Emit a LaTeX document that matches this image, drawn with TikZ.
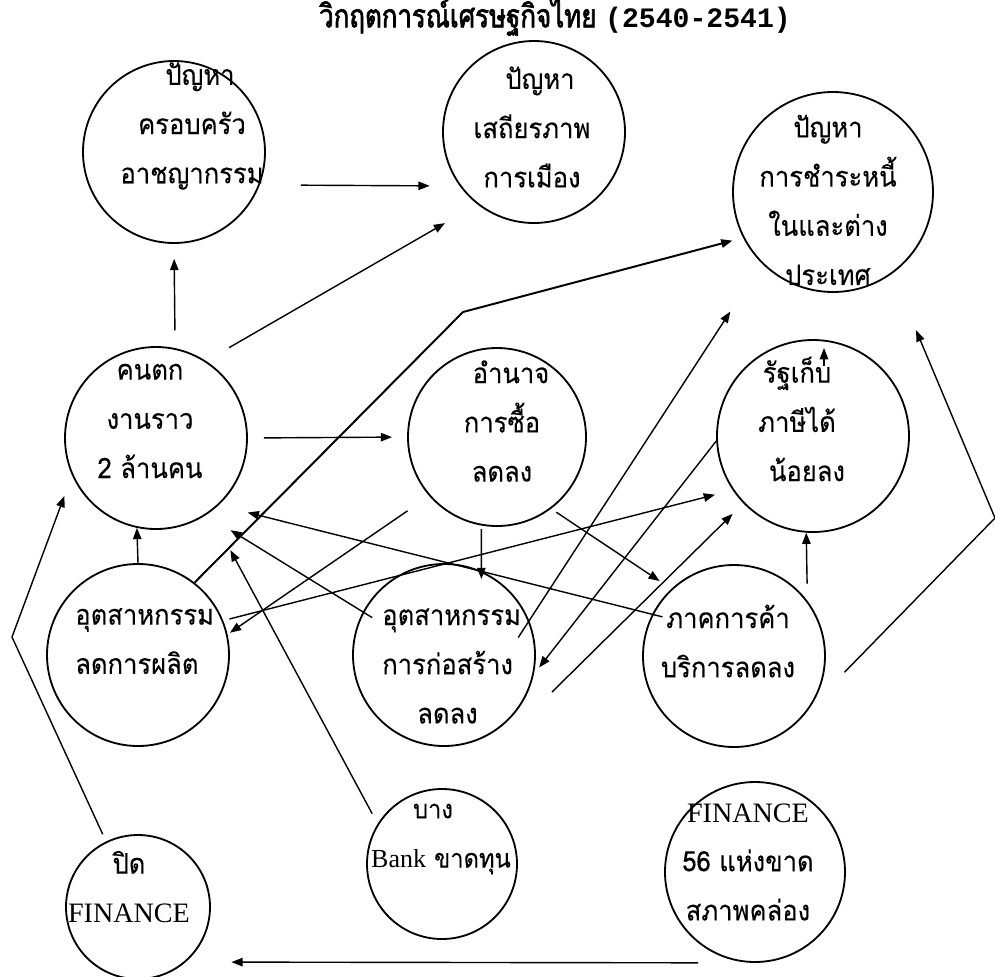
\documentclass[tikz,border=0pt]{standalone}
\usepackage{fontspec}
\setmainfont{Liberation Serif}
\newfontfamily\thai[Script=Thai,FakeStretch=0.91,FakeBold=0.15]{Loma}
\newfontfamily\thaititle[Script=Thai,FakeStretch=0.8,FakeBold=2]{Loma}
\newfontfamily\titlemono{Liberation Mono}
\usetikzlibrary{arrows.meta,calc}

\newdimen\pxu \pxu=0.025cm

\tikzset{
  bubble/.style={draw, circle, line width=1.3pt, inner sep=0pt, minimum size=182\pxu},
  txt/.style={font=\thai\fontsize{20}{35}\selectfont, align=center, inner sep=0pt},
  link/.style={line width=1pt, -{Triangle[length=8pt,width=6pt]}},
}

\begin{document}
\begin{tikzpicture}[x=0.025cm, y=-0.025cm]
\useasboundingbox (0,0) rectangle (995,976);

\node[font=\thaititle\fontsize{23}{25}\selectfont] (title) at (555,17) {วิกฤตการณ์เศรษฐกิจไทย {\titlemono\bfseries\fontsize{20}{25}\selectfont (2540-2541)}};

% the bubbles
\node[bubble] (fam) at (174,152) {};
\node[bubble] (pol) at (534,132) {};
\node[bubble, minimum size=200\pxu] (debt) at (833,192) {};
\node[bubble] (jobless) at (156,438) {};
\node[bubble, minimum size=178\pxu] (power) at (497,437) {};
\node[bubble, minimum size=192\pxu] (tax) at (813,436) {};
\node[bubble] (manu) at (138,655) {};
\node[bubble] (build) at (444,655) {};
\node[bubble] (trade) at (734,656) {};
\node[bubble, minimum size=144\pxu] (close) at (138,907) {};
\node[bubble, minimum size=150\pxu] (bank) at (442,864) {};
\node[bubble, minimum size=180\pxu] (fin56) at (755,872) {};

% their texts
\node[txt] (fam-t) at (192,126) {\hspace*{16\pxu}ปัญหา\\ครอบครัว\\อาชญากรรม};
\node[txt] (pol-t) at (532,127) {\hspace*{16\pxu}ปัญหา\\เสถียรภาพ\\การเมือง};
\node[txt] (debt-t) at (828,200) {ปัญหา\\การชำระหนี้\\ในและต่าง\hspace*{40\pxu}\\ประเทศ};
\node[txt] (jobless-t) at (150,421) {คนตก\\งานราว\\2 ล้านคน};
\node[txt] (power-t) at (502,421) {\hspace*{18\pxu}อำนาจ\\การซื้อ\\ลดลง};
\node[txt] (tax-t) at (797,419) {รัฐเก็บ\\ภาษีได้\hspace*{20\pxu}\\\hspace*{20\pxu}น้อยลง};
\node[txt, align=left, anchor=west] (manu-t) at (75,641) {อุตสาหกรรม\\ลดการผลิต};
\node[txt, align=left, anchor=west] (build-t) at (382,666) {อุตสาหกรรม\\การก่อสร้าง\\\hspace*{35\pxu}ลดลง};
\node[txt] (trade-t) at (728,641) {ภาคการค้า\\บริการลดลง};
\node[txt] (close-t) at (129,887) {ปิด\\{\rmfamily FINANCE}};
\node[txt, font=\thai\fontsize{18.5}{35}\selectfont] (bank-t) at (441,839) {\hspace*{-16\pxu}บาง\\{\rmfamily Bank} ขาดทุน};
\node[txt] (fin56-t) at (748,862) {{\rmfamily FINANCE}\\56 แห่งขาด\\สภาพคล่อง};

% arrows
\draw[link, shorten <=41\pxu, shorten >=30\pxu] (fam.-21.3) -- (pol.-144.4);
\draw[link, shorten <=17.8\pxu, shorten >=15\pxu] (jobless.78.6) -- (fam.-90);
\draw[link, shorten <=26.5\pxu, shorten >=37.4\pxu] (jobless.57.4) -- (pol.-128.5);
\coordinate (bend1) at (463,312);
\draw[link, line width=1.4pt, shorten >=11\pxu] (manu.52.6) -- (bend1) -- (debt.-153.2);
\draw[link, shorten <=16\pxu, shorten >=15\pxu] (jobless.0) -- (power.180);
\draw[link] (manu.90) -- (jobless.-102);
\coordinate (bend2) at (12,637);
\draw[link, shorten <=8\pxu, shorten >=21.9\pxu] (close.116.6) -- (bend2) -- (jobless.-156.3);
\draw[link, shorten <=-10.7\pxu, shorten >=29.9\pxu] (trade.153.5) -- (jobless.-47);
\draw[link, shorten <=-11\pxu, shorten >=28.7\pxu] (build.152) -- (jobless.-57.8);
\draw[link, shorten <=11.5\pxu, shorten >=42.9\pxu] (bank.148.2) -- (jobless.-54.6);
\draw[link, shorten <=26.2\pxu, shorten >=2.8\pxu] (power.-139.2) -- (manu.13);
\draw[link, shorten <=6.4\pxu, shorten >=18.2\pxu] (manu.22.9) -- (tax.-146.9);
\draw[link, shorten <=3.5\pxu, shorten >=-8\pxu] (power.-100.4) -- (build.66);
\draw[link, shorten <=6.2\pxu, shorten >=14\pxu] (power.-53.6) -- (trade.133.3);
\draw[link, shorten <=-20.2\pxu, shorten >=57.5\pxu] (build.22.6) -- (debt.-135.7);
\draw[link, shorten >=8.4\pxu] (tax.-177.7) -- (build.-12.4);
\draw[link, shorten >=15\pxu] ($(build)+(108,37)$) -- (tax.-136.2);
\draw[link, shorten <=17\pxu] (trade.37.7) -- (tax.-94.2);
\coordinate (bend3) at (995,518);
\draw[link, shorten <=49\pxu, shorten >=61.4\pxu] (trade.-34.8) -- (bend3) -- (debt.-54.6);
\draw[link, shorten <=57\pxu, shorten >=45.5\pxu] (fin56.-90) -- (close.-49.8);
\draw[link] ($(tax)+(11,-70)$) -- ($(tax)+(11,-88)$);
\end{tikzpicture}
\end{document}
